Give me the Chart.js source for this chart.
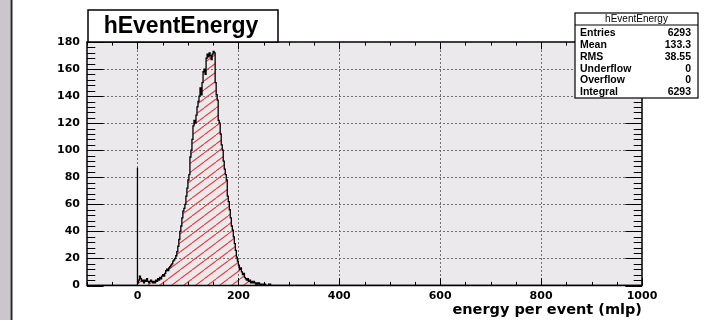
<!DOCTYPE html>
<html><head><meta charset="utf-8">
<script src="https://cdn.jsdelivr.net/npm/chart.js@4.4.0/dist/chart.umd.min.js"></script>
<style>html,body{margin:0;padding:0;background:#fff;}#wrap{width:705px;height:320px;position:relative;}canvas{display:block;}</style>
</head><body><div id="wrap"><canvas id="c" width="705" height="320"></canvas></div>
<script>
const histTitle = 'hEventEnergy';
const xAxisTitle = 'energy per event (mlp)';
const xMin = -100, xMax = 1000, yMin = 0, yMax = 180;
const binStart = 0;
const binWidth = 2;
const counts = [
  87, 2, 4, 7, 5, 3, 4, 2, 4, 3,
  5, 3, 2, 3, 4, 3, 2, 3, 2, 4,
  3, 5, 4, 6, 5, 7, 8, 7, 9, 11,
  12, 11, 13, 14, 15, 16, 18, 19, 20, 22,
  25, 29, 34, 40, 44, 50, 55, 57, 60, 66,
  72, 78, 82, 95, 100, 108, 118, 122, 120, 126,
  132, 136, 140, 146, 141, 150, 158, 160, 156, 168,
  171, 169, 172, 170, 167, 171, 173, 172, 150, 141,
  137, 122, 120, 112, 104, 100, 92, 86, 82, 78,
  66, 62, 56, 50, 44, 41, 36, 31, 26, 21,
  18, 15, 12, 13, 10, 8, 9, 6, 5, 4,
  5, 3, 4, 2, 3, 2, 3, 2, 1, 2,
  1, 2, 1, 0, 1, 1, 0, 1, 0, 0,
  0, 1, 1, 0
];
const xTickValues = [0, 200, 400, 600, 800, 1000];
const yTickValues = [0, 20, 40, 60, 80, 100, 120, 140, 160, 180];
const xMinorStep = 50, yMinorStep = 4;
const statsLabels = ['Entries', 'Mean', 'RMS', 'Underflow', 'Overflow', 'Integral'];
const statsValues = ['6293', '133.3', '38.55', '0', '0', '6293'];

const FONT = '"Liberation Sans", Arial, Helvetica, sans-serif';
const WIDE = '"DejaVu Sans", "Liberation Sans", sans-serif';

// histogram points (step after)
const points = [{x: xMin, y: 0}, {x: binStart, y: 0}];
counts.forEach((v, i) => points.push({x: binStart + i * binWidth, y: v}));
points.push({x: binStart + counts.length * binWidth, y: 0});
points.push({x: xMax, y: 0});

function makeHatch() {
  const c = document.createElement('canvas');
  c.width = 12; c.height = 9;
  const g = c.getContext('2d');
  g.strokeStyle = '#f03a3a';
  g.lineWidth = 1.1;
  for (const x0 of [-12, 0, 12]) {
    g.beginPath(); g.moveTo(x0, 9); g.lineTo(x0 + 12, 0); g.stroke();
  }
  return g.createPattern(c, 'repeat');
}

const decor = {
  id: 'decor',
  beforeDraw(chart) {
    const ctx = chart.ctx, a = chart.chartArea;
    ctx.save();
    ctx.fillStyle = '#ffffff'; ctx.fillRect(0, 0, chart.width, chart.height);
    ctx.fillStyle = '#cac6cc'; ctx.fillRect(0, 0, 10.5, chart.height);
    ctx.fillStyle = '#2a2a2a'; ctx.fillRect(10.5, 0, 2, chart.height);
    ctx.fillStyle = '#ece9ed'; ctx.fillRect(a.left, a.top, a.right - a.left, a.bottom - a.top);
    ctx.restore();
  },
  beforeDatasetsDraw(chart) {
    const ctx = chart.ctx, a = chart.chartArea, xs = chart.scales.x, ys = chart.scales.y;
    ctx.save();
    ctx.strokeStyle = '#707070'; ctx.lineWidth = 1; ctx.setLineDash([2, 2]);
    xTickValues.forEach(v => {
      if (v <= xMin || v >= xMax) return;
      const px = Math.round(xs.getPixelForValue(v)) + 0.5;
      ctx.beginPath(); ctx.moveTo(px, a.top); ctx.lineTo(px, a.bottom); ctx.stroke();
    });
    yTickValues.forEach(v => {
      if (v <= yMin || v >= yMax) return;
      const py = Math.round(ys.getPixelForValue(v)) + 0.5;
      ctx.beginPath(); ctx.moveTo(a.left, py); ctx.lineTo(a.right, py); ctx.stroke();
    });
    ctx.restore();
  },
  afterDatasetsDraw(chart) {
    const ctx = chart.ctx, a = chart.chartArea, xs = chart.scales.x, ys = chart.scales.y;
    ctx.save();
    ctx.strokeStyle = '#000'; ctx.lineWidth = 1;
    const xMajLen = 7.3, xMinLen = 3.6, yMajLen = 16.6, yMinLen = 8.3;
    for (let v = xMin; v <= xMax; v += xMinorStep) {
      const major = xTickValues.includes(v);
      const px = Math.round(xs.getPixelForValue(v)) + 0.5;
      const len = major ? xMajLen : xMinLen;
      ctx.beginPath(); ctx.moveTo(px, a.bottom); ctx.lineTo(px, a.bottom - len); ctx.stroke();
      ctx.beginPath(); ctx.moveTo(px, a.top); ctx.lineTo(px, a.top + len); ctx.stroke();
    }
    for (let v = yMin; v <= yMax; v += yMinorStep) {
      const major = yTickValues.includes(v);
      const py = Math.round(ys.getPixelForValue(v)) + 0.5;
      const len = major ? yMajLen : yMinLen;
      ctx.beginPath(); ctx.moveTo(a.left, py); ctx.lineTo(a.left + len, py); ctx.stroke();
      ctx.beginPath(); ctx.moveTo(a.right, py); ctx.lineTo(a.right - len, py); ctx.stroke();
    }
    // frame
    ctx.lineWidth = 1.5;
    ctx.strokeRect(a.left, a.top, a.right - a.left, a.bottom - a.top);
    // title box
    ctx.fillStyle = '#fff';
    ctx.fillRect(88, 10, 190, 32);
    ctx.lineWidth = 1.5; ctx.strokeStyle = '#000';
    ctx.strokeRect(88, 10, 190, 32);
    ctx.fillStyle = '#000';
    ctx.font = 'bold 23px ' + FONT;
    ctx.textAlign = 'center'; ctx.textBaseline = 'alphabetic';
    ctx.fillText(histTitle, 181, 33);
    // stats box
    ctx.fillStyle = '#fff';
    ctx.fillRect(575, 13, 123, 85);
    ctx.lineWidth = 1.2;
    ctx.strokeRect(575, 13, 123, 85);
    ctx.beginPath(); ctx.moveTo(575, 25); ctx.lineTo(698, 25); ctx.stroke();
    ctx.fillStyle = '#000';
    ctx.font = '10px ' + FONT;
    ctx.textAlign = 'center'; ctx.textBaseline = 'middle';
    ctx.fillText(histTitle, 636.5, 19.5);
    ctx.font = 'bold 10.5px ' + FONT;
    statsLabels.forEach((lab, i) => {
      const y = 33 + i * 11.9;
      ctx.textAlign = 'left'; ctx.fillText(lab, 580, y);
      ctx.textAlign = 'right'; ctx.fillText(statsValues[i], 691, y);
    });
    ctx.restore();
  }
};

new Chart(document.getElementById('c'), {
  type: 'line',
  data: {
    datasets: [{
      data: points,
      stepped: 'after',
      borderColor: '#000',
      borderWidth: 1.3,
      backgroundColor: makeHatch(),
      fill: 'origin',
      pointRadius: 0,
      tension: 0
    }]
  },
  plugins: [decor],
  options: {
    responsive: false,
    animation: false,
    devicePixelRatio: 1,
    layout: { padding: { left: 0, right: 63, top: 42, bottom: 0 } },
    plugins: { legend: { display: false }, tooltip: { enabled: false }, title: { display: false } },
    scales: {
      x: {
        type: 'linear', min: xMin, max: xMax, position: 'bottom',
        grid: { display: false, drawTicks: false },
        border: { display: false },
        afterBuildTicks: s => { s.ticks = xTickValues.map(v => ({ value: v })); },
        ticks: { color: '#000', font: { family: WIDE, weight: 'bold', size: 11 }, padding: 4, maxRotation: 0, autoSkip: false, callback: v => String(v) },
        title: { display: true, text: xAxisTitle, align: 'end', color: '#000', font: { family: WIDE, weight: 'bold', size: 14.5 }, padding: { top: 0, bottom: 1 } },
        afterFit: s => { s.height = 34.5; }
      },
      y: {
        type: 'linear', min: yMin, max: yMax, position: 'left',
        grid: { display: false, drawTicks: false },
        border: { display: false },
        afterBuildTicks: s => { s.ticks = yTickValues.map(v => ({ value: v })); },
        ticks: { color: '#000', font: { family: WIDE, weight: 'bold', size: 11 }, padding: 7, autoSkip: false, callback: v => String(v) },
        afterFit: s => { s.width = 87; }
      }
    }
  }
});
</script>
</body></html>
